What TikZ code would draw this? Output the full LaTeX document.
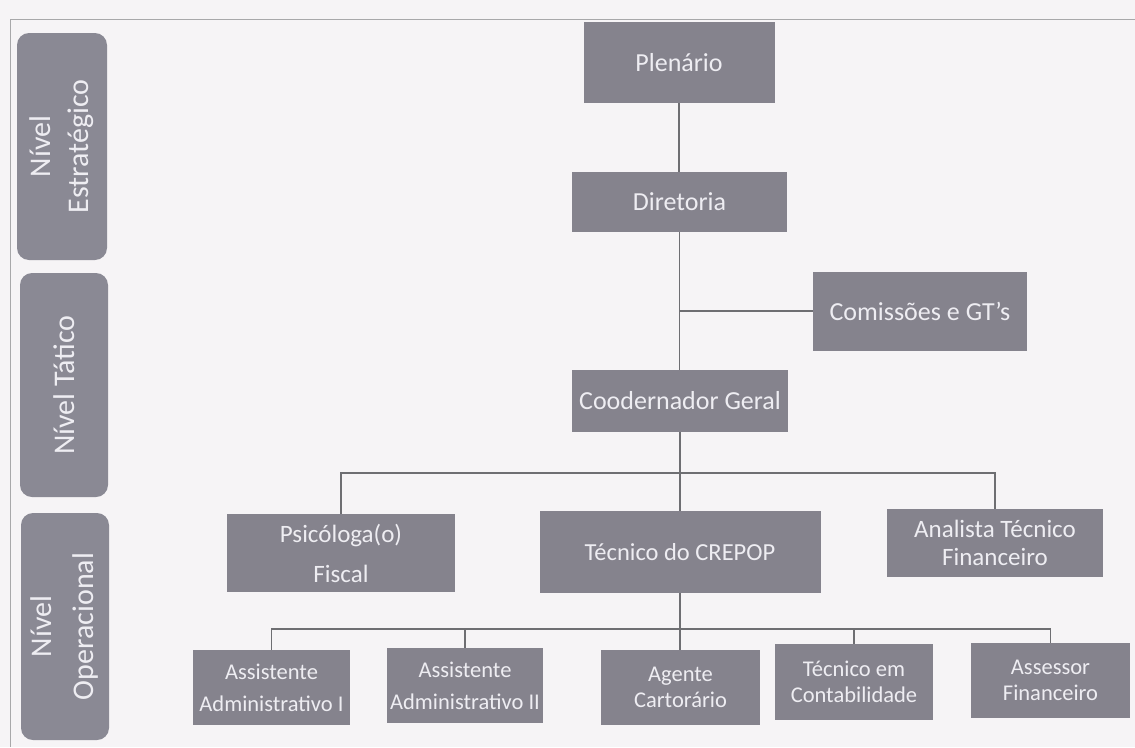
\documentclass[tikz,border=0pt]{standalone}
\usepackage{fontspec}
\setmainfont{Carlito}
\definecolor{paper}{HTML}{F6F4F6}
\definecolor{boxgray}{HTML}{85838D}
\definecolor{lvlgray}{HTML}{8A8994}
\definecolor{boxtext}{HTML}{EEEDF2}
\definecolor{linegray}{HTML}{6E6E72}
\begin{document}
\begin{tikzpicture}[x=1pt,y=-1pt,
  box/.style={fill=boxgray,text=boxtext,inner sep=0pt,align=center},
  lvl/.style={fill=lvlgray,text=boxtext,inner sep=0pt,rounded corners=12pt,align=center,rotate=90},
  conn/.style={draw=linegray,line width=1.4pt}]
\fill[paper] (0,0) rectangle (1135,747);
\useasboundingbox (0,0) rectangle (1135,747);
% frame
\draw[linegray!60,line width=0.8pt] (1135,19) -- (10,19) -- (10,747);
% level labels
\node[lvl,minimum width=227pt,minimum height=90pt,font=\fontsize{30}{38}\selectfont] (le) at (62,146.5) {Nível\\Estratégico};
\node[lvl,minimum width=224pt,minimum height=88pt,font=\fontsize{30}{38}\selectfont] (lt) at (64,385) {Nível Tático};
\node[lvl,minimum width=227pt,minimum height=88pt,font=\fontsize{30}{42}\selectfont] (lo) at (65,626.5) {Nível\\Operacional};
% top column
\node[box,minimum width=191pt,minimum height=81pt,font=\fontsize{26}{30}\selectfont] (plen) at (679,62.5) {Plenário};
\node[box,minimum width=215pt,minimum height=60pt,font=\fontsize{26}{30}\selectfont] (dir) at (679.5,202) {Diretoria};
\node[box,minimum width=214pt,minimum height=79pt,font=\fontsize{26}{30}\selectfont] (com) at (920,311) {Comissões e GT's};
\node[box,minimum width=216pt,minimum height=62pt,font=\fontsize{26}{30}\selectfont] (coord) at (680,401) {Coodernador Geral};
% second row
\node[box,minimum width=228pt,minimum height=78pt,font=\fontsize{25}{40}\selectfont] (psi) at (341,553) {Psicóloga(o)\\Fiscal};
\node[box,minimum width=281pt,minimum height=82pt,font=\fontsize{24.5}{30}\selectfont] (tec) at (680,552) {Técnico do CREPOP};
\node[box,minimum width=216pt,minimum height=68pt,font=\fontsize{25}{28}\selectfont] (ana) at (995,543) {Analista Técnico\\Financeiro};
% bottom row
\node[box,minimum width=157pt,minimum height=75pt,font=\fontsize{22.5}{32}\selectfont] (aa1) at (271.5,687.5) {Assistente\\Administrativo I};
\node[box,minimum width=156pt,minimum height=75pt,font=\fontsize{22.5}{32}\selectfont] (aa2) at (465,685.5) {Assistente\\Administrativo II};
\node[box,minimum width=159pt,minimum height=75pt,font=\fontsize{22.5}{26}\selectfont] (ag) at (680.5,687.5) {Agente\\Cartorário};
\node[box,minimum width=158pt,minimum height=76pt,font=\fontsize{22.5}{26}\selectfont] (cont) at (854,682) {Técnico em\\Contabilidade};
\node[box,minimum width=159pt,minimum height=75pt,font=\fontsize{22.5}{26}\selectfont] (ass) at (1050.5,680.5) {Assessor\\Financeiro};
% connectors
\coordinate (j1) at (680,311);
\coordinate (b1) at (680,473);
\coordinate (b2) at (680,629);
\draw[conn] (plen.south) -- (plen.south |- dir.north);
\draw[conn] (dir.south) -- (dir.south |- coord.north);
\draw[conn] (j1) -- (com.west);
\draw[conn] (coord.south) -- (coord.south |- tec.north);
\draw[conn] (psi.north) |- (ana.north |- b1) -- (ana.north);
\draw[conn] (tec.south) -- (tec.south |- ag.north);
\draw[conn] (aa1.north) |- (ass.north |- b2) -- (ass.north);
\draw[conn] (aa2.north) -- (aa2.north |- b2);
\draw[conn] (cont.north) -- (cont.north |- b2);
\end{tikzpicture}
\end{document}
